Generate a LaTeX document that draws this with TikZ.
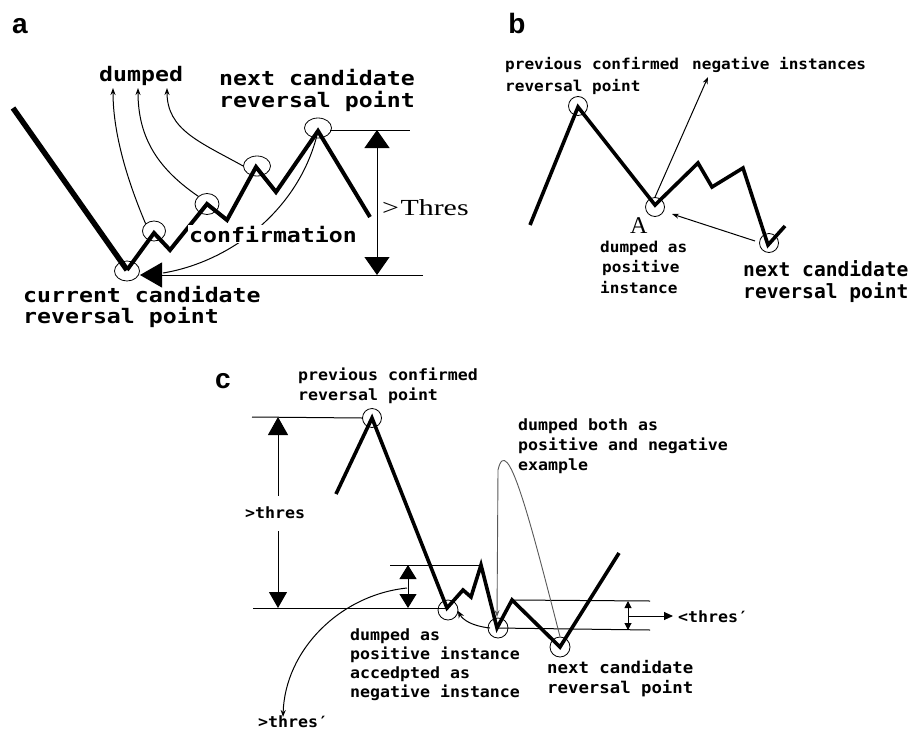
\documentclass[tikz,border=0pt]{standalone}
\usepackage{fontspec}
\setmainfont{Liberation Serif}
\newfontfamily\monoA[FakeStretch=1.16]{DejaVu Sans Mono}
\newfontfamily\monoB[FakeStretch=1.07]{DejaVu Sans Mono}
\newfontfamily\monoC{DejaVu Sans Mono}
\newfontfamily\panelfont{Liberation Sans}
\newfontfamily\serifwide[FakeStretch=1.3]{Liberation Serif}
\usetikzlibrary{arrows.meta,shapes.geometric}
\tikzset{
  heavy/.style={line width=4pt, line join=miter},
  heavyb/.style={line width=3.6pt, line join=miter},
  fine/.style={line width=1pt},
  ring/.style={draw, line width=0.8pt, ellipse, inner sep=0pt},
  panel/.style={font=\panelfont\bfseries\fontsize{28}{30}\selectfont, anchor=base, inner sep=0pt},
  txtA/.style={font=\monoA\bfseries\fontsize{20}{24}\selectfont, anchor=base west, inner sep=0pt},
  txtB/.style={font=\monoB\bfseries\fontsize{15}{18}\selectfont, anchor=base west, inner sep=0pt},
  txtC/.style={font=\monoB\bfseries\fontsize{15.5}{18}\selectfont, anchor=base west, inner sep=0pt},
  txtD/.style={font=\monoC\bfseries\fontsize{19.6}{24}\selectfont, anchor=base west, inner sep=0pt},
  serifl/.style={font=\fontsize{24}{26}\selectfont, anchor=base west, inner sep=0pt},
  tipS/.style={-{Stealth[length=7pt,width=5pt]}},
  bigA/.style={{Triangle[length=18pt,width=25pt]}-{Triangle[length=18pt,width=25pt]}},
}
\begin{document}
\begin{tikzpicture}[x=1pt,y=-1pt]
\useasboundingbox (0,0) rectangle (910,731);
\fill[white] (0,0) rectangle (910,731);

% ================= panel a =================
\node[panel] (la) at (20,33) {a};
\coordinate (a0) at (13,108);
\coordinate (a1) at (127,270);
\coordinate (a2) at (154,233);
\coordinate (a3) at (170,250);
\coordinate (a4) at (207,204);
\coordinate (a5) at (227,220);
\coordinate (a6) at (256,167);
\coordinate (a7) at (276,192);
\coordinate (a8) at (318,131);
\coordinate (a9) at (370,217);
\draw[line width=5.5pt] (a0) -- (a1);
\draw[heavy] (a1) -- (a2) -- (a3) -- (a4) -- (a5) -- (a6) -- (a7) -- (a8) -- (a9);

\node[ring, minimum width=25pt, minimum height=20pt] (ea1) at (127,271) {};
\node[ring, minimum width=23pt, minimum height=20pt] (ea2) at (154,231) {};
\node[ring, minimum width=24pt, minimum height=21pt] (ea4) at (207,204) {};
\node[ring, minimum width=27pt, minimum height=20pt] (ea6) at (257,166) {};
\node[ring, minimum width=27pt, minimum height=20pt] (ea8) at (318,128) {};

\coordinate (d1) at (113,88);
\coordinate (d2) at (138,88);
\coordinate (d3) at (167,88);
\draw[fine, tipS] (ea2.north west) .. controls (125,175) and (113,130) .. (d1);
\draw[fine, tipS] (ea4.north west) .. controls (160,170) and (138,140) .. (d2);
\draw[fine, tipS] (ea6.west) .. controls (200,142) and (167,130) .. (d3);

\coordinate (cf) at (163,273);
\draw[fine] (a8) .. controls (300,210) and (230,262) .. (cf);

\coordinate (tl1) at (330,130);
\coordinate (tl2) at (410,130);
\coordinate (bl1) at (423,275);
\coordinate (bl0) at (140,275);
\draw[fine] (tl1) -- (tl2);
\draw[fine, -{Triangle[length=22pt,width=25pt]}] (bl1) -- (bl0);
\coordinate (va1) at (377,130);
\coordinate (va2) at (377,275);
\draw[fine, bigA] (va1) -- (va2);

\node[txtA] (tdump) at (99,81) {dumped};
\node[txtA] (tnext1) at (219,85) {next candidate};
\node[txtA] (tnext2) at (219,107) {reversal point};
\node[txtA, fill=white, inner sep=1pt] (tconf) at (188,242) {confirmation};
\node[txtA] (tcur1) at (23,302) {current candidate};
\node[txtA] (tcur2) at (23,323) {reversal point};
\node[serifl, font=\serifwide\fontsize{23}{25}\selectfont] (tthr) at (382,215) {>\kern1.5pt Thres};

% ================= panel b =================
\node[panel] (lb) at (517,33) {b};
\coordinate (b0) at (530,225);
\coordinate (b1) at (578,107);
\coordinate (b2) at (655,205);
\coordinate (b3) at (698,163);
\coordinate (b4) at (712,187);
\coordinate (b5) at (743,168);
\coordinate (b6) at (768,245);
\coordinate (b7) at (785,226);
\draw[heavyb] (b0) -- (b1) -- (b2) -- (b3) -- (b4) -- (b5) -- (b6) -- (b7);
\node[ring, circle, minimum size=19pt] (cb1) at (578,106) {};
\node[ring, circle, minimum size=19pt] (cb2) at (655,207) {};
\node[ring, circle, minimum size=19pt] (cb3) at (769,243) {};
\coordinate (bn) at (708,77);
\draw[fine, tipS] (cb2.north) -- (bn);
\coordinate (bs) at (755,241);
\coordinate (be) at (672,214);
\draw[fine, tipS] (bs) -- (be);

\node[txtB] (pb1) at (505,69) {previous confirmed};
\node[txtB] (pb2) at (505,91) {reversal point};
\node[txtB] (pb3) at (692,69) {negative instances};
\node[serifl] (pA) at (630,233) {A};
\node[txtB] (pb4) at (600,252) {dumped as};
\node[txtB] (pb5) at (602,272) {positive};
\node[txtB] (pb6) at (600,293) {instance};
\node[txtD] (pb7) at (743,276) {next candidate};
\node[txtD] (pb8) at (743,298) {reversal point};

% ================= panel c =================
\node[panel] (lc) at (223,388) {c};
\coordinate (c0) at (336,494);
\coordinate (c1) at (372,418);
\coordinate (c2) at (447,608);
\coordinate (c3) at (463,590);
\coordinate (c4) at (471,597);
\coordinate (c5) at (481,565);
\coordinate (c6) at (497,628);
\coordinate (c7) at (512,600);
\coordinate (c8) at (560,647);
\coordinate (c9) at (619,553);
\draw[heavyb] (c0) -- (c1) -- (c2) -- (c3) -- (c4) -- (c5) -- (c6) -- (c7) -- (c8) -- (c9);
\node[ring, circle, minimum size=19pt] (cc1) at (372,418) {};
\node[ring, circle, minimum size=20pt] (cc2) at (448,610) {};
\node[ring, circle, minimum size=20pt] (cc3) at (498,628) {};
\node[ring, circle, minimum size=20pt] (cc4) at (560,647) {};

% horizontal reference lines
\coordinate (h1a) at (252,417);
\draw[fine] (h1a) -- (cc1.west);
\coordinate (h2a) at (253,608);
\draw[fine] (h2a) -- (c2);
\coordinate (h3a) at (390,565);
\draw[fine] (h3a) -- (c5);
\coordinate (h4b) at (650,601);
\draw[fine] (c7) -- (h4b);
\coordinate (h5b) at (650,630);
\draw[fine] (c6) -- (h5b);

% big left dimension
\coordinate (v1t) at (278,417);
\coordinate (v1m) at (278,496);
\coordinate (v1n) at (278,531);
\coordinate (v1b) at (278,608);
\draw[fine, {Triangle[length=18pt,width=20pt]}-] (v1t) -- (v1m);
\draw[fine, -{Triangle[length=16pt,width=18pt]}] (v1n) -- (v1b);
\node[txtC] (tthres) at (245,518) {>thres};

% small dimension
\coordinate (v2t) at (408,565);
\coordinate (v2b) at (408,608);
\draw[fine, {Triangle[length=14pt,width=17pt]}-{Triangle[length=14pt,width=17pt]}] (v2t) -- (v2b);

% right small dimension
\coordinate (v3t) at (628,601);
\coordinate (v3b) at (628,630);
\draw[fine, {Triangle[length=7pt,width=7pt]}-{Triangle[length=7pt,width=7pt]}] (v3t) -- (v3b);
\coordinate (v3m) at (628,616);
\coordinate (v3e) at (673,616);
\draw[fine, -{Triangle[length=9pt,width=8pt]}] (v3m) -- (v3e);
\node[txtC] (tthrp) at (678,622) {<thres′};

% curved arrows
\coordinate (lp1) at (498,470);
\coordinate (lp2) at (497,617);
\draw[line width=0.9pt, black!65, -{Stealth[length=7pt,width=5pt]}] (cc4.north) .. controls (530,520) and (507,430) .. (lp1) -- (lp2);
\coordinate (ar1) at (490,628);
\coordinate (ar2) at (458,611);
\draw[fine, -{Stealth[length=7pt,width=6pt]}] (ar1) .. controls (472,626) and (463,620) .. (ar2);
\coordinate (lg1) at (407,588);
\coordinate (lg2) at (283,717);
\draw[fine, -{Stealth[length=7pt,width=5pt]}] (lg1) .. controls (340,595) and (285,650) .. (lg2);

\node[txtC] (pc1) at (298,380) {previous confirmed};
\node[txtC] (pc2) at (298,400) {reversal point};
\node[txtC] (pc3) at (518,430) {dumped both as};
\node[txtC] (pc4) at (518,450) {positive and negative};
\node[txtC] (pc5) at (518,470) {example};
\node[txtC] (pc6) at (350,640) {dumped as};
\node[txtC] (pc7) at (350,659) {positive instance};
\node[txtC] (pc8) at (350,678) {accedpted as};
\node[txtC] (pc9) at (350,697) {negative instance};
\node[txtC, font=\monoB\bfseries\fontsize{16.2}{18}\selectfont] (pc10) at (547,673) {next candidate};
\node[txtC, font=\monoB\bfseries\fontsize{16.2}{18}\selectfont] (pc11) at (547,693) {reversal point};
\node[txtC] (pc12) at (258,727) {>thres′};
\end{tikzpicture}
\end{document}
